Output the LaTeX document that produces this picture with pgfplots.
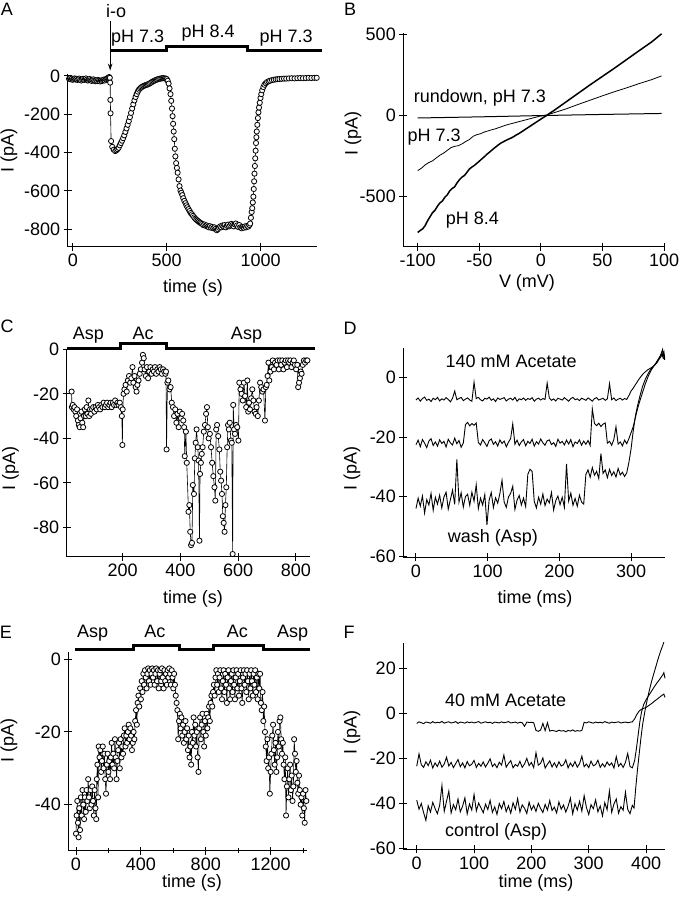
\documentclass[border=0pt]{standalone}
\usepackage{fontspec}
\setmainfont{Liberation Sans}
\usepackage{pgfplots}
\pgfplotsset{compat=1.18}
\usetikzlibrary{arrows.meta}
\newcommand\fs{\fontsize{18}{21}\selectfont}
\pgfplotsset{
  panel/.style={
    scale only axis, clip=false,
    axis x line*=bottom, axis y line*=left,
    axis line style={line width=1pt,-},
    tick align=center, major tick length=8pt, minor tick length=5pt,
    every tick/.style={black, line width=1pt},
    tick label style={font=\fs},
    /pgf/number format/assume math mode=true,
    /pgf/number format/1000 sep={},
    scaled ticks=false,
  },
  dots/.style={black, line width=0.6pt, mark=*, mark size=2.6pt,
    mark options={fill=white, draw=black, line width=0.8pt}},
  trace/.style={black, line width=0.9pt, mark=none},
}
\tikzset{solbar/.style={line width=3pt}}

\begin{document}
\begin{tikzpicture}[font=\fs]
\useasboundingbox (0,0) rectangle (682pt,-900pt);

% ---------------- A
\begin{axis}[panel, at={(67.7pt,-246.7pt)}, anchor=south west,
  width=249pt, height=172.7pt,
  xmin=-27, xmax=1298, ymin=-891, ymax=10,
  xtick={0,500,1000}, ytick={-800,-600,-400,-200,0}]
\addplot[dots] coordinates {
(-20,-15)(-15,-12)(-10,-18)(-5,-14)(0,-20)(5,-16)(10,-13)(15,-19)(20,-15)(25,-21)
(30,-17)(35,-14)(40,-20)(45,-24)(50,-18)(55,-15)(60,-21)(65,-17)(70,-13)(75,-19)
(80,-24)(85,-20)(90,-16)(95,-22)(100,-26)(105,-21)(110,-18)(115,-24)(120,-28)(125,-23)
(130,-27)(135,-21)(140,-25)(145,-29)(150,-24)(155,-27)(160,-22)(165,-19)(170,-24)(175,-18)
(180,-15)(185,-12)(190,-9)(194,-6)(197,-10)(199,-35)(200,-125)(201,-195)(204,-340)(210,-370)
(218,-385)(226,-392)(232,-388)(238,-382)(244,-375)(250,-362)(256,-350)(262,-338)(268,-325)(274,-310)
(280,-292)(286,-274)(292,-255)(298,-236)(304,-215)(310,-193)(316,-170)(322,-148)(328,-128)(334,-110)
(340,-95)(346,-82)(352,-72)(358,-65)(364,-60)(370,-56)(376,-53)(382,-50)(388,-48)(394,-46)
(400,-44)(406,-41)(412,-38)(418,-34)(424,-30)(430,-27)(436,-24)(442,-21)(448,-19)(454,-17)
(460,-15)(466,-14)(472,-13)(478,-12)(484,-12)(490,-13)(496,-14)(500,-17)(505,-25)(510,-40)
(515,-65)(520,-95)(524,-130)(528,-170)(531,-210)(534,-250)(537,-290)(540,-330)(543,-380)(546,-420)
(550,-455)(554,-480)(558,-505)(563,-540)(568,-575)(573,-598)(578,-610)(583,-622)(588,-638)(594,-652)
(600,-664)(605,-675)(610,-685)(616,-695)(622,-705)(628,-715)(634,-722)(640,-730)(646,-738)(652,-745)
(658,-750)(664,-755)(670,-760)(676,-765)(682,-768)(688,-772)(694,-778)(700,-775)(706,-782)(712,-780)
(718,-786)(724,-790)(730,-784)(736,-792)(742,-788)(748,-795)(754,-790)(760,-798)(766,-805)(772,-800)
(778,-792)(784,-785)(790,-790)(796,-780)(802,-786)(808,-778)(814,-790)(820,-782)(826,-776)(832,-785)
(838,-780)(844,-772)(850,-778)(856,-785)(862,-775)(868,-770)(874,-780)(880,-788)(886,-778)(892,-790)
(898,-795)(904,-788)(910,-792)(916,-785)(922,-790)(928,-782)(934,-786)(940,-778)(944,-770)(948,-740)
(952,-710)(955,-690)(958,-660)(961,-630)(963,-590)(965,-550)(967,-510)(969,-470)(971,-430)(973,-390)
(975,-350)(977,-320)(979,-290)(982,-255)(985,-220)(988,-190)(991,-165)(995,-140)(999,-115)(1003,-95)
(1008,-75)(1014,-58)(1020,-46)(1027,-38)(1034,-32)(1042,-28)(1050,-25)(1060,-22)(1070,-20)(1080,-18)
(1090,-17)(1100,-16)(1112,-15)(1124,-14)(1136,-14)(1150,-13)(1165,-12)(1180,-13)(1195,-12)(1210,-11)
(1225,-12)(1240,-11)(1255,-10)(1270,-11)(1285,-10)(1298,-10)};
\draw[solbar] (axis cs:198,135) -- (axis cs:500,135) -- (axis cs:500,156)
  -- (axis cs:930,156) -- (axis cs:930,133) -- (axis cs:1324,133);
\node at (axis cs:345,198) {pH 7.3};
\node at (axis cs:720,224) {pH 8.4};
\node at (axis cs:1135,198) {pH 7.3};
\node at (axis cs:231,339) {i-o};
\draw[line width=0.8pt,-{Stealth[length=7pt,width=4.5pt]}] (axis cs:199,285) -- (axis cs:199,28);
\end{axis}

% ---------------- B
\begin{axis}[panel, at={(403.3pt,-246.7pt)}, anchor=south west,
  width=261.7pt, height=213.7pt,
  xmin=-111.7, xmax=100.8, ymin=-810, ymax=510,
  xtick={-100,-50,0,50,100}, ytick={-500,0,500}]
\addplot[trace, line width=1pt] coordinates {(-100,-15)(-50,-8)(0,0)(50,7)(98,13)};
\addplot[trace, line width=0.8pt] coordinates {
(-100,-340)(-97,-325)(-94,-305)(-91,-290)(-88,-280)(-85,-262)(-82,-245)(-79,-232)(-76,-215)(-73,-198)
(-70,-190)(-67,-186)(-64,-175)(-61,-160)(-58,-148)(-55,-128)(-52,-118)(-49,-112)(-46,-102)(-43,-95)
(-40,-88)(-37,-82)(-34,-74)(-31,-66)(-28,-58)(-25,-52)(-22,-46)(-19,-40)(-16,-34)(-13,-28)
(-10,-22)(-7,-16)(-4,-10)(-1,-4)(2,0)(5,4)(10,16)(20,40)(30,68)(40,95)
(50,122)(60,148)(70,172)(80,198)(90,222)(98,245)};
\addplot[trace, line width=1.5pt] coordinates {
(-100,-722)(-98,-710)(-96,-700)(-94,-680)(-92,-650)(-90,-625)(-88,-600)(-86,-585)(-84,-560)(-82,-540)
(-80,-528)(-78,-505)(-76,-490)(-74,-465)(-72,-450)(-70,-440)(-68,-415)(-66,-395)(-64,-380)(-62,-370)
(-60,-350)(-58,-330)(-56,-318)(-54,-308)(-52,-295)(-50,-282)(-48,-268)(-46,-255)(-44,-240)(-42,-228)
(-40,-215)(-38,-202)(-36,-190)(-34,-178)(-32,-168)(-30,-160)(-28,-152)(-26,-145)(-24,-138)(-22,-130)
(-20,-120)(-18,-112)(-16,-102)(-14,-92)(-12,-82)(-10,-72)(-8,-62)(-6,-52)(-4,-42)(-2,-32)
(0,-22)(2,-12)(4,-3)(6,8)(10,28)(20,82)(30,136)(40,190)(50,242)(60,294)
(70,348)(80,402)(90,455)(98,505)};
\node[anchor=west] at (axis cs:-106,110) {rundown, pH 7.3};
\node[anchor=west] at (axis cs:-111,-132) {pH 7.3};
\node[anchor=west] at (axis cs:-80,-645) {pH 8.4};
\end{axis}

% ---------------- C
\begin{axis}[panel, at={(66.7pt,-556.7pt)}, anchor=south west,
  width=243.3pt, height=207.4pt,
  xmin=6, xmax=849, ymin=-93.2, ymax=0,
  xtick={200,400,600,800}, ytick={-80,-60,-40,-20,0}]
\addplot[dots] coordinates {
(23,-19)(24,-26)(27,-25)(30,-27)(33,-26)(36,-28)(39,-30)(42,-27)(45,-32)(48,-34)
(51,-35)(54,-31)(57,-28)(60,-33)(63,-35)(66,-30)(69,-27)(72,-30)(75,-26)(78,-29)
(81,-23)(84,-30)(87,-27)(90,-29)(94,-27)(98,-26)(102,-28)(106,-26)(110,-27)(114,-25)
(118,-26)(122,-27)(126,-25)(130,-26)(134,-24)(138,-26)(142,-25)(146,-24)(150,-26)(154,-25)
(158,-24)(162,-26)(166,-24)(170,-25)(174,-23)(178,-25)(182,-24)(186,-25)(190,-24)(194,-26)
(197,-30)(199,-43)(200,-27)(203,-20)(206,-18)(210,-16)(214,-19)(218,-14)(222,-12)(226,-15)
(230,-13)(234,-8)(237,-15)(241,-12)(245,-17)(248,-19)(251,-16)(255,-14)(259,-11)(263,-9)
(267,-6)(270,-2.5)(273,-4)(276,-9)(280,-12)(284,-8)(288,-13)(292,-10)(296,-8)(300,-11)
(304,-9)(308,-10)(312,-8)(316,-11)(320,-9)(324,-10)(328,-8)(332,-9)(336,-11)(340,-9)
(344,-10)(348,-11)(350,-10)(352,-45)(355,-15)(358,-14)(362,-18)(366,-17)(370,-24)(374,-26)
(378,-30)(382,-27)(386,-33)(390,-29)(394,-35)(398,-28)(402,-31)(406,-29)(410,-32)(413,-35)
(415,-48)(419,-37)(422,-51)(428,-73)(431,-70)(434,-82)(437,-88)(440,-87)(443,-61)(447,-65)
(450,-49)(453,-42)(456,-36)(460,-44)(463,-50)(466,-86)(468,-56)(471,-51)(474,-47)(477,-44)
(481,-37)(485,-34)(489,-29)(492,-26)(495,-35)(498,-40)(502,-38)(506,-44)(510,-51)(514,-57)
(518,-62)(521,-68)(524,-36)(527,-34)(531,-39)(535,-45)(538,-55)(541,-59)(544,-65)(547,-75)
(550,-78)(553,-82)(556,-70)(559,-62)(562,-44)(565,-34)(568,-36)(571,-33)(575,-41)(578,-42)
(581,-92)(583,-25)(586,-36)(589,-38)(593,-34)(597,-35)(601,-41)(604,-15)(608,-18)(612,-20)
(616,-23)(620,-15)(624,-21)(628,-26)(632,-14)(635,-28)(638,-24)(641,-27)(645,-22)(649,-18)
(653,-23)(657,-28)(661,-29)(664,-26)(668,-30)(672,-23)(676,-15)(680,-17)(684,-19)(688,-18)
(693,-32)(696,-17)(699,-16)(702,-12)(705,-6)(708,-14)(712,-10)(716,-8)(720,-5)(724,-9)
(728,-6)(733,-7)(737,-5)(741,-9)(745,-5)(749,-7)(753,-5)(757,-9)(761,-6)(765,-5)
(769,-8)(773,-5)(777,-6)(781,-5)(785,-8)(789,-6)(793,-5)(797,-7)(801,-9)(805,-7)
(808,-17)(811,-15)(814,-13)(817,-10)(820,-11)(824,-7)(828,-5)(832,-6)(836,-5)(840,-5)};
\draw[solbar] (axis cs:8,0.2) -- (axis cs:191,0.2) -- (axis cs:191,2.4) -- (axis cs:352,2.4)
  -- (axis cs:352,0.2) -- (axis cs:866,0.2);
\node at (axis cs:81,6.4) {Asp};
\node at (axis cs:271,7.2) {Ac};
\node at (axis cs:629,6.4) {Asp};
\end{axis}

% ---------------- D
\begin{axis}[panel, at={(403.3pt,-557.3pt)}, anchor=south west,
  width=261.7pt, height=209pt,
  xmin=-17.7, xmax=347.4, ymin=-60.4, ymax=9.9,
  xtick={0,100,200,300}, ytick={-60,-40,-20,0}]
\addplot[trace] coordinates {
(0,-7.5)(3,-6.8)(6,-7.9)(9,-7.0)(12,-6.5)(15,-7.6)(18,-7.2)(21,-8.0)(24,-6.9)(27,-7.4)
(30,-6.6)(33,-7.8)(36,-7.1)(39,-7.5)(42,-6.7)(45,-7.3)(48,-8.1)(51,-6.9)(54,-4.5)(57,-7.4)
(60,-7.0)(63,-6.6)(66,-7.7)(69,-7.2)(72,-6.8)(75,-7.5)(78,-7.9)(81,-1.5)(84,-7.0)(87,-6.6)
(90,-7.4)(93,-7.8)(96,-6.9)(99,-7.2)(102,-6.5)(105,-7.6)(108,-7.1)(111,-8.0)(114,-6.8)(117,-7.3)
(120,-7.0)(123,-6.7)(126,-7.8)(129,-7.2)(132,-6.9)(135,-7.5)(138,-6.6)(141,-7.9)(144,-7.1)(147,-7.4)
(150,-6.8)(153,-7.6)(156,-7.0)(159,-7.3)(162,-6.7)(165,-7.9)(168,-7.2)(171,-6.9)(174,-7.5)(177,-7.0)
(180,-7.3)(183,-1.8)(186,-6.8)(189,-7.6)(192,-7.1)(195,-7.8)(198,-6.9)(201,-7.2)(204,-7.5)(207,-6.7)
(210,-7.3)(213,-7.9)(216,-7.0)(219,-6.6)(222,-7.4)(225,-7.1)(228,-7.7)(231,-6.9)(234,-7.2)(237,-7.6)
(240,-6.8)(243,-7.3)(246,-7.9)(249,-7.0)(252,-6.7)(255,-7.5)(258,-7.2)(261,-6.9)(264,-7.6)(267,-7.1)
(270,-2.0)(273,-7.4)(276,-6.8)(279,-7.7)(282,-7.2)(285,-6.9)(288,-7.5)(291,-7.0)(294,-7.3)
(297,-6.0)(300,-4.5)(303,-3.5)(307,-2.0)(311,-0.5)(315,0.8)(319,1.8)(323,2.6)(327,3.2)(331,3.8)
(335,4.8)(338,6.0)(341,7.5)(343,8.8)(344,9.5)(345,7.5)(346,8.5)(347,6.5)};
\addplot[trace] coordinates {
(0,-22.5)(3,-21.0)(6,-23.2)(9,-20.8)(12,-22.0)(15,-23.5)(18,-21.3)(21,-20.5)(24,-22.8)(27,-21.6)
(30,-23.0)(33,-20.9)(36,-22.1)(39,-21.4)(42,-23.3)(45,-20.7)(48,-21.9)(51,-22.6)(54,-20.3)(57,-22.2)
(60,-21.1)(63,-23.4)(66,-22.0)(69,-15.8)(72,-15.0)(75,-16.2)(78,-15.4)(81,-16.0)(84,-15.2)(87,-21.8)
(90,-22.6)(93,-20.8)(96,-21.9)(99,-23.1)(102,-21.2)(105,-20.6)(108,-22.4)(111,-21.5)(114,-23.0)(117,-20.9)
(120,-22.1)(123,-21.3)(126,-23.2)(129,-21.7)(132,-20.5)(135,-15.5)(138,-22.4)(141,-21.0)(144,-22.8)(147,-21.6)
(150,-20.8)(153,-22.9)(156,-21.4)(159,-22.1)(162,-20.7)(165,-23.0)(168,-21.5)(171,-22.3)(174,-20.6)(177,-21.9)
(180,-22.7)(183,-21.2)(186,-20.9)(189,-22.5)(192,-21.8)(195,-23.1)(198,-20.7)(201,-22.0)(204,-21.4)(207,-22.6)
(210,-21.0)(213,-22.3)(216,-20.8)(219,-23.2)(222,-21.6)(225,-22.1)(228,-20.9)(231,-22.7)(234,-21.3)(237,-22.4)
(240,-21.1)(243,-22.8)(246,-10.5)(249,-15.4)(252,-16.1)(255,-15.3)(258,-16.4)(261,-15.6)(264,-15.2)(267,-22.0)
(270,-21.4)(273,-22.7)(276,-20.8)(279,-16.5)(282,-22.3)(285,-21.6)(288,-22.9)(291,-21.0)(294,-22.2)
(297,-20.5)(300,-18.5)(303,-16.5)(306,-13.5)(309,-10.5)(312,-8.0)(316,-5.0)(320,-2.0)(324,0.5)(328,2.5)
(332,4.0)(336,5.5)(340,7.0)(343,8.0)(345,6.5)(347,7.0)};
\addplot[trace] coordinates {
(0,-44.0)(3,-40.5)(6,-43.2)(9,-39.8)(12,-45.5)(15,-41.0)(18,-42.8)(21,-38.9)(24,-44.6)(27,-40.2)
(30,-42.5)(33,-39.5)(36,-43.8)(39,-40.1)(42,-38.5)(45,-44.2)(48,-41.0)(51,-37.8)(54,-42.6)(57,-27.5)
(60,-41.8)(63,-38.7)(66,-43.5)(69,-40.0)(72,-39.2)(75,-42.9)(78,-38.5)(81,-41.5)(84,-36.0)(87,-44.0)
(90,-40.5)(93,-42.8)(96,-39.3)(99,-49.5)(102,-41.2)(105,-38.6)(108,-43.7)(111,-40.4)(114,-42.2)(117,-39.0)
(120,-34.5)(123,-41.8)(126,-43.6)(129,-40.1)(132,-38.9)(135,-36.5)(138,-44.3)(141,-41.2)(144,-39.6)(147,-42.8)
(150,-40.5)(153,-43.4)(156,-32.5)(159,-30.8)(162,-31.5)(165,-41.6)(168,-43.8)(171,-40.2)(174,-42.5)(177,-39.1)
(180,-43.0)(183,-40.8)(186,-42.1)(189,-38.6)(192,-44.5)(195,-41.3)(198,-39.8)(201,-42.7)(204,-40.2)(207,-43.6)
(210,-29.0)(213,-41.5)(216,-38.8)(219,-42.9)(222,-40.6)(225,-43.2)(228,-39.5)(231,-41.8)(234,-42.5)(237,-32.5)
(240,-31.0)(243,-33.5)(246,-30.2)(249,-32.8)(252,-31.5)(255,-33.9)(258,-25.5)(261,-32.2)(264,-31.0)(267,-33.6)
(270,-30.8)(273,-32.9)(276,-31.6)(279,-33.4)(282,-30.5)(285,-32.7)(288,-31.8)(291,-33.2)(294,-32.0)
(297,-28.5)(300,-24.0)(303,-18.0)(306,-13.0)(309,-9.5)(312,-6.5)(316,-3.0)(320,-0.5)(324,1.5)(328,3.0)
(332,4.0)(336,5.0)(340,6.5)(343,7.5)(345,8.5)(347,6.0)};
\node at (axis cs:132.6,5.4) {140 mM Acetate};
\node at (axis cs:107.4,-54) {wash (Asp)};
\end{axis}

% ---------------- E
\begin{axis}[panel, at={(68.3pt,-850.7pt)}, anchor=south west,
  width=239pt, height=199pt,
  xmin=-47.5, xmax=1426, ymin=-52.7, ymax=2.1,
  xtick={0,400,800,1200}, minor xtick={200,600,1000,1400}, ytick={-40,-20,0}]
\addplot[dots] coordinates {
(0,-48)(4,-43)(8,-39)(12,-45)(16,-49)(20,-41)(25,-47)(30,-38)(35,-43)(40,-36)
(45,-40)(50,-44)(55,-38)(60,-42)(65,-36)(70,-39)(75,-33)(80,-38)(85,-41)(90,-36)
(95,-40)(100,-35)(105,-39)(110,-43)(115,-36)(120,-41)(125,-44)(128,-33)(132,-29)(136,-38)
(140,-24)(145,-27)(150,-25)(155,-31)(160,-28)(165,-24)(170,-30)(175,-26)(180,-33)(185,-37)
(190,-29)(195,-26)(200,-31)(205,-28)(210,-33)(215,-27)(220,-23)(225,-29)(230,-26)(235,-30)
(240,-22)(245,-27)(250,-33)(255,-28)(260,-25)(265,-23)(270,-30)(275,-22)(280,-27)(285,-24)
(290,-26)(295,-21)(300,-19)(305,-24)(310,-21)(315,-23)(320,-20)(325,-18)(330,-22)(335,-19)
(340,-21)(345,-25)(350,-23)(355,-20)(360,-22)(365,-17)(370,-14)(375,-18)(380,-12)(385,-10)
(390,-13)(395,-8)(400,-11)(405,-6)(410,-9)(415,-4)(420,-7)(425,-3)(430,-5)(435,-8)
(440,-4)(445,-2.5)(450,-6)(455,-3)(460,-7)(465,-4)(470,-2.5)(475,-5)(480,-3)(485,-7)
(490,-4)(495,-2.5)(500,-6)(505,-3)(510,-8)(515,-4)(520,-3)(525,-6)(530,-2.5)(535,-5)
(540,-8)(545,-3)(550,-6)(555,-4)(560,-7)(565,-3)(570,-5)(575,-2.5)(580,-4)(585,-7)
(590,-3)(595,-5)(600,-8)(605,-4)(610,-7)(615,-10)(620,-12)(625,-14)(630,-22)(635,-17)
(640,-15)(645,-19)(650,-16)(655,-21)(660,-18)(665,-23)(670,-20)(675,-17)(680,-22)(685,-19)
(690,-25)(695,-21)(700,-27)(705,-24)(710,-29)(715,-20)(720,-23)(725,-16)(730,-21)(735,-18)
(740,-24)(745,-20)(750,-27)(755,-31)(760,-19)(765,-16)(770,-22)(775,-18)(780,-15)(785,-20)
(790,-24)(795,-17)(800,-21)(805,-15)(810,-19)(815,-16)(820,-13)(825,-17)(830,-12)(835,-10)
(840,-13)(845,-9)(850,-7)(855,-10)(860,-5)(865,-3)(870,-7)(875,-4)(880,-9)(885,-5)
(890,-3)(895,-8)(900,-11)(905,-6)(910,-3)(915,-9)(920,-4)(925,-7)(930,-12)(935,-5)
(940,-3)(945,-8)(950,-11)(955,-6)(960,-4)(965,-9)(970,-3)(975,-7)(980,-11)(985,-5)
(990,-3)(995,-8)(1000,-4)(1005,-10)(1010,-6)(1015,-3)(1020,-8)(1025,-12)(1030,-5)(1035,-3)
(1040,-7)(1045,-4)(1050,-9)(1055,-3)(1060,-6)(1065,-11)(1070,-4)(1075,-8)(1080,-3)(1085,-6)
(1090,-10)(1095,-4)(1100,-7)(1105,-3)(1110,-9)(1115,-5)(1120,-11)(1125,-4)(1130,-8)(1135,-4)
(1140,-12)(1145,-14)(1150,-9)(1155,-17)(1160,-13)(1165,-20)(1170,-24)(1175,-28)(1180,-22)(1185,-30)
(1190,-27)(1195,-37)(1200,-31)(1205,-26)(1210,-21)(1215,-18)(1220,-25)(1225,-29)(1230,-23)(1235,-31)
(1240,-27)(1245,-20)(1250,-24)(1255,-17)(1260,-16)(1265,-22)(1270,-26)(1275,-23)(1280,-29)(1285,-33)
(1290,-27)(1295,-43)(1300,-35)(1305,-30)(1310,-38)(1315,-33)(1320,-29)(1325,-36)(1330,-32)(1335,-39)
(1340,-35)(1345,-22)(1350,-26)(1355,-31)(1360,-28)(1365,-34)(1370,-37)(1375,-32)(1380,-36)(1385,-40)
(1390,-38)(1395,-43)(1400,-37)(1405,-41)(1410,-45)(1415,-36)(1420,-39)};
\draw[solbar] (axis cs:-6,2.75) -- (axis cs:353,2.75) -- (axis cs:353,3.85) -- (axis cs:641,3.85)
  -- (axis cs:641,2.75) -- (axis cs:847,2.75) -- (axis cs:847,3.85) -- (axis cs:1155,3.85)
  -- (axis cs:1155,2.75) -- (axis cs:1443,2.75);
\node at (axis cs:103,7.2) {Asp};
\node at (axis cs:487,7.6) {Ac};
\node at (axis cs:995,7.6) {Ac};
\node at (axis cs:1336,7.2) {Asp};
\end{axis}

% ---------------- F
\begin{axis}[panel, at={(403.3pt,-849.3pt)}, anchor=south west,
  width=261.7pt, height=206pt,
  xmin=-23.4, xmax=433, ymin=-60.3, ymax=31,
  xtick={0,100,200,300,400}, ytick={-60,-40,-20,0,20}]
\addplot[trace] coordinates {
(0,-4.5)(4,-3.8)(8,-4.2)(12,-4.6)(16,-3.9)(20,-4.1)(24,-4.4)(28,-3.7)(32,-4.3)(36,-4.0)
(40,-4.2)(44,-3.6)(48,-4.4)(52,-4.0)(56,-3.8)(60,-4.3)(64,-4.1)(68,-3.7)(72,-4.5)(76,-3.9)
(80,-4.1)(84,-4.4)(88,-3.8)(92,-4.2)(96,-3.9)(100,-4.3)(104,-4.0)(108,-3.7)(112,-4.4)(116,-4.1)
(120,-3.8)(124,-4.2)(128,-4.0)(132,-4.5)(136,-3.9)(140,-4.1)(144,-4.3)(148,-3.8)(152,-4.2)(156,-4.0)
(160,-3.7)(164,-4.3)(168,-4.1)(172,-3.9)(176,-4.4)(180,-4.0)(184,-4.2)(188,-5.8)(192,-3.9)(196,-4.1)
(200,-4.0)(204,-4.2)(208,-7.6)(212,-8.0)(216,-7.5)(220,-4.5)(224,-7.7)(228,-4.2)(232,-7.9)(236,-7.6)
(240,-7.8)(244,-8.1)(248,-7.5)(252,-7.9)(256,-7.7)(260,-8.2)(264,-7.6)(268,-7.9)(272,-7.4)(276,-8.0)
(280,-7.7)(284,-7.9)(288,-7.6)(292,-4.0)(296,-4.3)(300,-3.8)(304,-4.1)(308,-4.4)(312,-3.9)(316,-4.2)
(320,-4.0)(324,-4.3)(328,-3.7)(332,-4.1)(336,-4.4)(340,-3.9)(344,-4.2)(348,-4.0)(352,-3.8)(356,-4.3)
(360,-4.1)(364,-3.9)(368,-4.2)(372,-4.0)(376,-3.8)
(380,-2.5)(384,-0.5)(388,1.0)(392,1.8)(396,2.2)(400,2.6)(404,3.3)(408,4.0)(412,4.8)(416,5.6)
(420,6.4)(424,7.2)(428,8.0)(431,8.5)(433,7.0)};
\addplot[trace] coordinates {
(0,-23.5)(4,-18.0)(8,-22.8)(12,-24.0)(16,-21.5)(20,-23.2)(24,-20.8)(28,-24.3)(32,-22.0)(36,-23.6)
(40,-21.2)(44,-23.9)(48,-22.5)(52,-19.5)(56,-23.4)(60,-21.8)(64,-24.1)(68,-22.3)(72,-20.5)(76,-23.7)
(80,-22.0)(84,-24.2)(88,-21.4)(92,-23.3)(96,-22.6)(100,-20.9)(104,-24.0)(108,-22.2)(112,-23.5)(116,-21.6)
(120,-23.8)(124,-22.1)(128,-20.2)(132,-23.6)(136,-22.4)(140,-24.1)(144,-21.7)(148,-23.0)(152,-18.5)(156,-23.9)
(160,-22.3)(164,-21.0)(168,-24.2)(172,-22.7)(176,-23.5)(180,-21.3)(184,-24.0)(188,-22.5)(192,-20.0)(196,-23.2)
(200,-21.8)(204,-24.1)(208,-17.5)(212,-23.0)(216,-22.2)(220,-19.8)(224,-24.3)(228,-22.6)(232,-21.1)(236,-23.8)
(240,-22.0)(244,-24.0)(248,-21.5)(252,-23.4)(256,-22.8)(260,-20.6)(264,-24.2)(268,-22.1)(272,-23.6)(276,-21.4)
(280,-23.9)(284,-22.3)(288,-19.0)(292,-23.7)(296,-22.5)(300,-24.1)(304,-21.2)(308,-23.3)(312,-22.7)(316,-20.8)
(320,-24.0)(324,-22.4)(328,-23.8)(332,-21.6)(336,-23.1)(340,-22.0)(344,-24.3)(348,-19.2)(352,-23.5)(356,-22.2)
(360,-24.0)(364,-21.8)(368,-17.8)(372,-23.6)(376,-24.2)
(380,-21.0)(383,-16.0)(386,-10.0)(389,-4.0)(392,0.5)(396,4.0)(400,6.0)(405,8.0)(410,10.0)(415,12.0)
(420,13.8)(425,15.5)(429,17.0)(431,18.0)(433,15.5)};
\addplot[trace] coordinates {
(0,-38.5)(4,-42.5)(8,-40.0)(12,-44.0)(16,-47.5)(20,-41.0)(24,-43.8)(28,-39.5)(32,-42.2)(36,-44.5)
(40,-40.8)(44,-32.0)(48,-43.5)(52,-39.0)(56,-34.5)(60,-44.2)(64,-40.5)(68,-42.8)(72,-38.0)(76,-43.7)
(80,-41.2)(84,-37.5)(88,-44.6)(92,-40.2)(96,-42.9)(100,-36.0)(104,-43.3)(108,-39.8)(112,-41.9)(116,-44.1)
(120,-40.3)(124,-42.7)(128,-38.6)(132,-43.9)(136,-41.5)(140,-44.8)(144,-40.0)(148,-42.3)(152,-39.1)(156,-43.6)
(160,-41.0)(164,-44.3)(168,-39.7)(172,-42.6)(176,-37.8)(180,-43.8)(184,-40.6)(188,-42.1)(192,-44.4)(196,-39.4)
(200,-42.8)(204,-40.9)(208,-43.5)(212,-39.9)(216,-42.2)(220,-44.0)(224,-40.4)(228,-42.9)(232,-38.7)(236,-43.1)
(240,-41.6)(244,-44.2)(248,-39.3)(252,-42.5)(256,-40.7)(260,-43.8)(264,-41.2)(268,-37.6)(272,-44.6)(276,-40.1)
(280,-42.9)(284,-39.0)(288,-43.4)(292,-36.5)(296,-41.8)(300,-44.9)(304,-40.5)(308,-42.3)(312,-38.4)(316,-43.7)
(320,-41.1)(324,-45.5)(328,-39.6)(332,-42.8)(336,-34.5)(340,-43.9)(344,-40.2)(348,-38.0)(352,-44.3)(356,-41.4)
(360,-43.0)(364,-35.0)(368,-42.6)(372,-44.5)(376,-40.8)
(379,-42.0)(382,-33.0)(385,-25.0)(388,-18.0)(391,-11.0)(394,-5.0)(398,1.0)(402,6.0)(406,10.5)(410,14.5)
(414,18.0)(418,21.5)(422,25.0)(426,28.0)(429,30.0)(431,31.5)};
\node at (axis cs:154.9,5.9) {40 mM Acetate};
\node at (axis cs:138.3,-52.5) {control (Asp)};
\end{axis}

% panel letters and axis titles
\node at (7pt,-9.5pt) {A};
\node at (350pt,-9.5pt) {B};
\node at (7pt,-326pt) {C};
\node at (350pt,-328pt) {D};
\node at (6pt,-632pt) {E};
\node at (349pt,-632pt) {F};
\node[rotate=90] at (9pt,-150pt) {I (pA)};
\node[rotate=90] at (353pt,-133pt) {I (pA)};
\node[rotate=90] at (10.5pt,-468pt) {I (pA)};
\node[rotate=90] at (352pt,-468pt) {I (pA)};
\node[rotate=90] at (9pt,-740pt) {I (pA)};
\node[rotate=90] at (352pt,-732pt) {I (pA)};
\node at (193pt,-288pt) {time (s)};
\node at (527pt,-283pt) {V (mV)};
\node at (193pt,-599pt) {time (s)};
\node at (535pt,-599pt) {time (ms)};
\node at (192pt,-883pt) {time (s)};
\node at (536pt,-883pt) {time (ms)};
\end{tikzpicture}
\end{document}
